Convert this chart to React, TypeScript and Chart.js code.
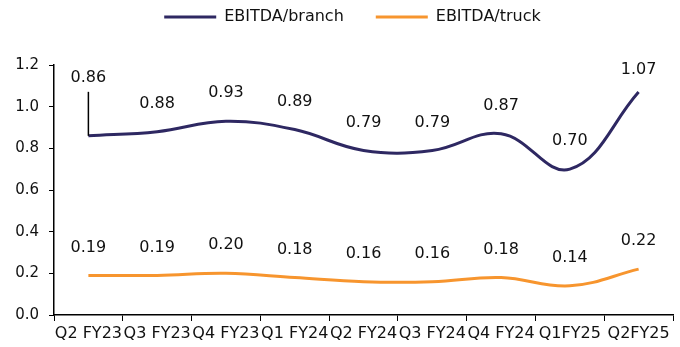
import React, { useEffect, useRef } from "react";
import { Chart, registerables } from "chart.js";

Chart.register(...registerables);

const categories = ["Q2 FY23", "Q3 FY23", "Q4 FY23", "Q1 FY24", "Q2 FY24", "Q3 FY24", "Q4 FY24", "Q1FY25", "Q2FY25"];
const branchValues = [0.86, 0.88, 0.93, 0.89, 0.79, 0.79, 0.87, 0.7, 1.07];
const truckValues = [0.19, 0.19, 0.2, 0.18, 0.16, 0.16, 0.18, 0.14, 0.22];
const yTicks = [0, 0.2, 0.4, 0.6, 0.8, 1.0, 1.2];

const FONT = "'DejaVu Sans', Verdana, sans-serif";
const NAVY = "#2E2862";
const ORANGE = "#F7952E";

const dataLabelPlugin = {
  id: "dataLabels",
  afterDatasetsDraw(chart: any) {
    const ctx = chart.ctx;
    ctx.save();
    ctx.font = `16px ${FONT}`;
    ctx.fillStyle = "#111";
    ctx.textAlign = "center";
    ctx.textBaseline = "middle";
    chart.data.datasets.forEach((ds: any, di: number) => {
      const meta = chart.getDatasetMeta(di);
      meta.data.forEach((pt: any, i: number) => {
        const v = ds.data[i];
        const text = Number(v).toFixed(2);
        const lift = ds.labelLift && ds.labelLift[i] != null ? ds.labelLift[i] : 28;
        const ly = pt.y - lift;
        if (lift > 40) {
          ctx.strokeStyle = "#000";
          ctx.lineWidth = 1.5;
          ctx.beginPath();
          ctx.moveTo(pt.x, pt.y);
          ctx.lineTo(pt.x, ly + 14);
          ctx.stroke();
        }
        ctx.fillText(text, pt.x, ly);
      });
    });
    ctx.restore();
  },
};

const legendFitPlugin = {
  id: "legendFit",
  beforeLayout(chart: any) {
    const lg = chart.legend;
    if (lg && !lg._patched) {
      const origFit = lg.fit.bind(lg);
      lg.fit = function () {
        origFit();
        this.height = 89;
      };
      const origDraw = lg.draw.bind(lg);
      lg.draw = function () {
        const ctx = this.ctx;
        ctx.save();
        ctx.translate(16, 1);
        origDraw();
        ctx.restore();
      };
      lg._patched = true;
    }
  },
};

export default function App() {
  const ref = useRef<HTMLCanvasElement>(null);
  useEffect(() => {
    document.body.style.margin = "0";
    const chart = new Chart(ref.current!, {
      type: "line",
      data: {
        labels: categories,
        datasets: [
          {
            label: "EBITDA/branch",
            data: branchValues,
            borderColor: NAVY,
            backgroundColor: NAVY,
            borderWidth: 3,
            tension: 0.4,
            pointRadius: 0,
            fill: false,
            labelLift: [58, null, null, null, null, null, null, null, 22],
          } as any,
          {
            label: "EBITDA/truck",
            data: truckValues,
            borderColor: ORANGE,
            backgroundColor: ORANGE,
            borderWidth: 3,
            tension: 0.4,
            pointRadius: 0,
            fill: false,
          } as any,
        ],
      },
      options: {
        animation: false,
        responsive: false,
        layout: { padding: { top: -24, left: 0, right: 7, bottom: 0 } },
        plugins: {
          legend: {
            position: "top",
            labels: {
              usePointStyle: true,
              pointStyle: "line",
              pointStyleWidth: 52,
              padding: 32,
              color: "#111",
              font: { family: FONT, size: 16 },
            },
          },
          tooltip: { enabled: false },
        },
        scales: {
          x: {
            type: "category",
            offset: true,
            grid: { display: true, offset: true, drawOnChartArea: false, drawTicks: true, tickLength: 6, color: "#000" },
            border: { display: true, color: "#000", width: 1.5 },
            ticks: {
              autoSkip: false,
              maxRotation: 0,
              minRotation: 0,
              padding: 3,
              color: "#111",
              font: { family: FONT, size: 16 },
            },
            afterFit(scale: any) {
              scale.height = 32;
            },
          },
          y: {
            min: 0,
            max: 1.2,
            afterBuildTicks(scale: any) {
              scale.ticks = yTicks.map((v) => ({ value: v }));
            },
            grid: { display: true, drawOnChartArea: false, drawTicks: true, tickLength: 5, color: "#000" },
            border: { display: true, color: "#000", width: 1.5 },
            ticks: {
              padding: 10,
              color: "#111",
              font: { family: FONT, size: 15 },
              callback: (v: any) => Number(v).toFixed(1),
            },
            afterFit(scale: any) {
              scale.width = 54;
            },
          },
        },
      },
      plugins: [dataLabelPlugin, legendFitPlugin],
    });
    return () => chart.destroy();
  }, []);
  return (
    <div style={{ width: 680, height: 347 }}>
      <canvas ref={ref} width={680} height={347} style={{ display: "block" }} />
    </div>
  );
}
